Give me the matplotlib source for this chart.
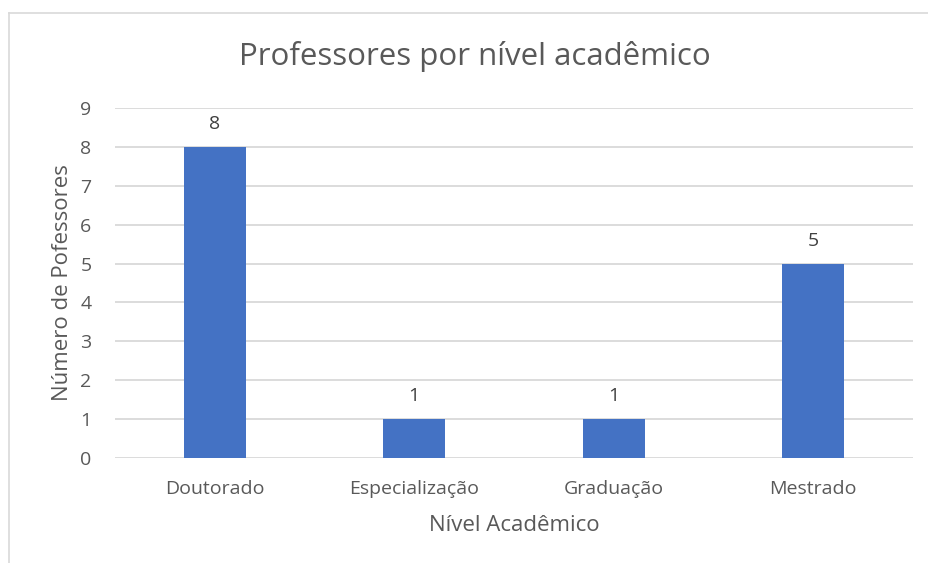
import matplotlib
matplotlib.use("Agg")
import matplotlib.pyplot as plt
from matplotlib.lines import Line2D

categories = ["Doutorado", "Especialização", "Graduação", "Mestrado"]
values = [8, 1, 1, 5]
yticks = list(range(0, 10))

title = "Professores por nível acadêmico"
xlabel = "Nível Acadêmico"
ylabel = "Número de Pofessores"

plt.rcParams['font.family'] = ['Open Sans', 'DejaVu Sans']
text_color = "#595959"
bar_color = "#4472C4"
grid_color = "#D9D9D9"

fig = plt.figure(figsize=(9.29, 5.63), dpi=100)
ax = fig.add_axes([115/929, 1-458/563, (913-115)/929, (458-108)/563])

x = list(range(len(categories)))
bars = ax.bar(x, values, width=0.31, color=bar_color, zorder=3)
for xi, v in zip(x, values):
    ax.annotate(str(v), (xi, v), xytext=(0, 10), textcoords="offset points",
                ha="center", va="bottom", fontsize=14, color="#404040")

ax.set_xlim(-0.5, len(categories) - 0.5)
ax.set_ylim(0, 9)
ax.set_yticks(yticks)
ax.set_xticks(x)
ax.set_xticklabels(categories)
ax.tick_params(axis="both", length=0, labelsize=14, labelcolor=text_color)
ax.tick_params(axis="x", pad=16)
ax.tick_params(axis="y", pad=17)
ax.grid(axis="y", color=grid_color, linewidth=1.3, zorder=0)
for s in ax.spines.values():
    s.set_visible(False)

ax.set_xlabel(xlabel, fontsize=16, color=text_color, labelpad=12)
ax.set_ylabel(ylabel, fontsize=16, color=text_color)
ax.yaxis.set_label_coords((73 - 115) / 798, 0.5)
fig.text(475/929, 1-56/563, title, ha="center", va="center", fontsize=22.5, color=text_color)

# chart border (top and left visible)
fig.add_artist(Line2D([9/929, 1], [1-12.5/563, 1-12.5/563], color="#D9D9D9", linewidth=1.2, transform=fig.transFigure))
fig.add_artist(Line2D([9/929, 9/929], [0, 1-12.5/563], color="#D9D9D9", linewidth=1.2, transform=fig.transFigure))

fig.savefig("out.png", dpi=100, facecolor="white")
